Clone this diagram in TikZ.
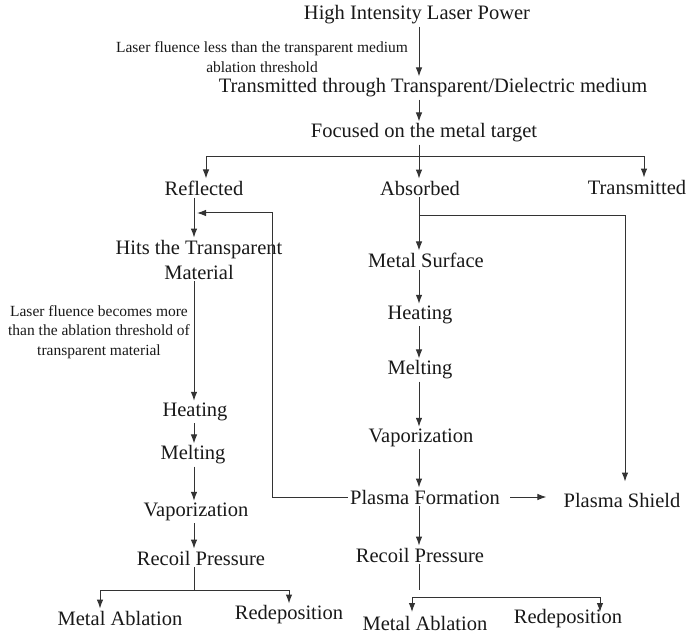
\documentclass[tikz,border=0pt]{standalone}
\usepackage{fontspec}
\setmainfont{Liberation Serif}
\usetikzlibrary{arrows.meta, positioning}

\begin{document}
\begin{tikzpicture}[
  x=1pt, y=-1pt,
  font=\fontsize{20.5}{25}\selectfont,
  stage/.style={inner sep=2pt, align=center, text=black!90},
  note/.style={font=\fontsize{15.5}{19.5}\selectfont, align=center, inner sep=0pt, text=black!90},
  arr/.style={-{Latex[length=9pt, width=6.5pt]}, line width=1pt, draw=black!80},
  ln/.style={line width=1pt, draw=black!80}
]
\useasboundingbox (0,0) rectangle (691,636);

% column axes
\coordinate (axisM) at (419,0);
\coordinate (axisL) at (194,0);

% top chain
\node[stage] (laser) at (417,15) {High Intensity Laser Power};
\node[note] (lowflu) at (262,57) {Laser fluence less than the transparent medium\\ablation threshold};
\node[stage] (medium) at (433,88) {Transmitted through Transparent/Dielectric medium};
\node[stage] (focus) at (424,133) {Focused on the metal target};

% three ways
\node[stage] (refl) at (204,188) {Reflected};
\node[stage] (absb) at (420,188) {Absorbed};
\node[stage] (tmit) at (637,187) {Transmitted};

% reflected branch
\node[stage] (hits) at (199,259.5) {Hits the Transparent\\Material};
\node[note] (highflu) at (99,332) {Laser fluence becomes more\\than the ablation threshold of\\transparent material};
\node[stage] (heatL) at (195,412) {Heating};
\node[stage] (meltL) at (193,455) {Melting};
\node[stage] (vapL) at (196,512) {Vaporization};
\node[stage] (recoilL) at (201,558) {Recoil Pressure};
\node[stage] (ablL) at (120,618) {Metal Ablation};
\node[stage] (redepL) at (289,615) {Redeposition};

% absorbed branch
\node[stage] (surf) at (426,260) {Metal Surface};
\node[stage] (heatR) at (420,315) {Heating};
\node[stage] (meltR) at (420,370) {Melting};
\node[stage] (vapR) at (421,438) {Vaporization};
\node[stage] (plasma) at (425,497) {Plasma Formation};
\node[stage] (shield) at (622,500) {Plasma Shield};
\node[stage] (recoilR) at (420,555) {Recoil Pressure};
\node[stage] (ablR) at (425,623) {Metal Ablation};
\node[stage] (redepR) at (568,619) {Redeposition};

% free ends
\coordinate (fork) at (419,157);
\coordinate (forkL) at (194,590);
\coordinate (split) at (419,216);
\coordinate (loopc) at (272,213);
\coordinate (loopend) at (197,213);
\coordinate (recEnd) at (419,590);
\coordinate (barL) at (412,597);
\coordinate (barR) at (600,597);
\coordinate (tipL) at (412,612);
\coordinate (tipR) at (600,612);

% top connectors
\draw[arr] (laser.south -| axisM) -- (medium.north -| axisM);
\draw[arr] (medium.south -| axisM) -- (focus.north -| axisM);
\draw[ln] (focus.south -| axisM) -- (fork);
\draw[arr] (fork) -| ([xshift=2pt]refl.north);
\draw[arr] (fork) -- (absb.north -| axisM);
\draw[arr] (fork) -| ([xshift=7pt]tmit.north);

% left column
\draw[arr] (refl.south -| axisL) -- (hits.north -| axisL);
\draw[arr] (hits.south -| axisL) -- (heatL.north -| axisL);
\draw[arr] (heatL.south -| axisL) -- (meltL.north -| axisL);
\draw[arr] (meltL.south -| axisL) -- (vapL.north -| axisL);
\draw[arr] (vapL.south -| axisL) -- (recoilL.north -| axisL);
\draw[ln] (recoilL.south -| axisL) -- (forkL);
\draw[arr] (forkL) -| ([xshift=-20pt]ablL.north);
\draw[arr] (forkL) -| (redepL.north);

% right column
\draw[arr] (absb.south -| axisM) -- (surf.north -| axisM);
\draw[arr] (surf.south -| axisM) -- (heatR.north -| axisM);
\draw[arr] (heatR.south -| axisM) -- (meltR.north -| axisM);
\draw[arr] (meltR.south -| axisM) -- (vapR.north -| axisM);
\draw[arr] (vapR.south -| axisM) -- (plasma.north -| axisM);
\draw[arr] (plasma.south -| axisM) -- (recoilR.north -| axisM);
\draw[arr, shorten >=9pt] (split) -| ([xshift=3pt]shield.north);
\draw[arr, shorten <=8pt, shorten >=15pt] (plasma.east) -- (plasma.east -| shield.west);
\draw[arr] (plasma.west) -| (loopc) -- (loopend);

% bottom fork, right
\draw[ln] (recoilR.south -| axisM) -- (recEnd);
\draw[arr] (barR) -- (barL) -- (tipL);
\draw[arr] (barR) -- (tipR);

\end{tikzpicture}
\end{document}
